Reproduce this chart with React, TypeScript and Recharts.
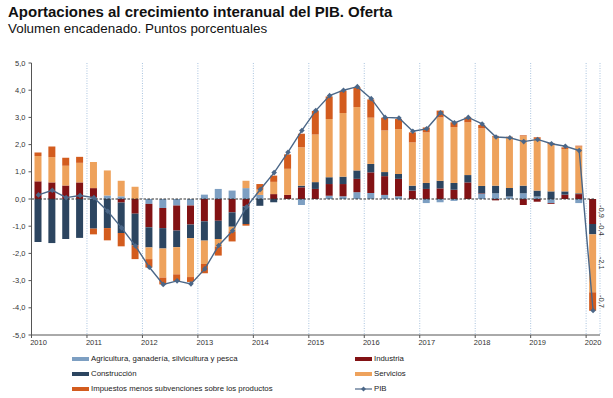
import {
  Bar,
  CartesianGrid,
  ComposedChart,
  Line,
  ReferenceLine,
  XAxis,
  YAxis,
} from "recharts";

// Trimestres 2010T1 - 2020T1
const years = [2010, 2011, 2012, 2013, 2014, 2015, 2016, 2017, 2018, 2019, 2020];
const quarters = years.flatMap((y) => [1, 2, 3, 4].map((q) => `${y}T${q}`)).slice(0, 41);

const agricultura = [
  0, 0, 0, 0, 0.05, 0.13, 0.1, 0, -0.18, -0.33, -0.24, -0.24, 0.16, 0.37, 0.31, 0.4,
  0.15, 0, 0, -0.22, 0, 0.12, 0.1, 0.25, 0.22, 0.15, 0.1, 0, -0.15, -0.12, -0.07, 0,
  0.19, 0.21, 0.09, 0.21, 0.09, -0.15, 0, -0.15, 0,
];
const industria = [
  0.65, 0.61, 0.5, 0.61, 0.35, 0, -0.13, -0.54, -0.86, -0.74, -0.92, -0.7, -0.82, -0.8, -0.49, -0.27,
  0, 0.18, 0.15, 0.43, 0.37, 0.43, 0.45, 0.49, 0.76, 0.69, 0.64, 0.31, 0.37, 0.39, 0.34, 0.61,
  0.02, -0.05, 0, -0.22, -0.1, -0.03, 0.16, 0.18, -0.92,
];
const construccion = [
  -1.58, -1.62, -1.47, -1.43, -1.09, -1.07, -1.12, -1.16, -0.74, -0.75, -0.61, -0.5, -0.71, -0.67, -0.53, -0.65,
  -0.25, -0.12, 0, 0.06, 0.25, 0.25, 0.27, 0.31, 0.31, 0.15, 0.18, 0.18, 0.22, 0.28, 0.25, 0.27,
  0.27, 0.28, 0.31, 0.28, 0.22, 0.28, 0.12, 0.03, -0.38,
];
const servicios = [
  0.93, 0.93, 0.72, 0.72, 0.96, 0.92, 0.57, 0.45, -0.43, -1.07, -1.0, -1.43, -0.86, -0.28, -0.17, 0.27,
  0.2, 0.45, 0.96, 1.41, 1.75, 2.14, 2.34, 2.33, 1.7, 1.53, 1.65, 1.59, 1.86, 2.33, 2.05, 1.94,
  2.12, 1.8, 1.87, 1.82, 1.9, 1.73, 1.56, 1.72, -2.13,
];
const impuestos = [
  0.13, 0.39, 0.3, 0.22, -0.21, -0.45, -0.49, -0.51, -0.31, -0.25, -0.25, -0.18, -0.34, -0.33, -0.37, -0.06,
  0.2, 0.23, 0.53, 0.5, 0.87, 0.83, 0.82, 0.74, 0.67, 0.47, 0.37, 0.37, 0.18, 0.25, 0.18, 0.18,
  0.12, 0.03, 0.02, 0.03, 0.06, 0.05, 0.06, 0.03, -0.68,
];
const pib = [
  0.15, 0.32, 0.05, 0.13, 0.05, -0.45, -1.06, -1.73, -2.51, -3.14, -3.01, -3.12, -2.57, -1.71, -1.17, -0.3,
  0.35, 0.97, 1.72, 2.52, 3.25, 3.8, 4.0, 4.13, 3.69, 3.0, 2.98, 2.49, 2.58, 3.17, 2.8, 3.0,
  2.76, 2.28, 2.25, 2.11, 2.19, 2.03, 1.94, 1.78, -4.1,
];

const yTicks = [-5, -4, -3, -2, -1, 0, 1, 2, 3, 4, 5];
const xTicks = years.map((_, i) => i * 4);

const COLORS = {
  agricultura: "#7d9fc2",
  industria: "#821214",
  construccion: "#2c4560",
  servicios: "#eea25c",
  impuestos: "#d35c1e",
  pib: "#4b6788",
};

const data = quarters.map((q, i) => ({
  q,
  x: i + 0.5,
  agricultura: agricultura[i],
  industria: industria[i],
  construccion: construccion[i],
  servicios: servicios[i],
  impuestos: impuestos[i],
  pib: pib[i],
}));

const fmt = (v: number) => v.toFixed(1).replace(".", ",");
const FONT = '"Liberation Sans", Arial, sans-serif';
const LAST = quarters.length - 1;

const YearTick = (props: any) => {
  const { x, y, payload } = props;
  return (
    <text x={x + 7} y={y + 5} textAnchor="middle" fontSize={7.5} fill="#333" fontFamily={FONT}>
      {years[payload.value / 4]}
    </text>
  );
};

const Diamond = (props: any) => {
  const { cx, cy } = props;
  if (cx == null || cy == null) return null;
  return (
    <path
      d={`M${cx},${cy - 2.8}L${cx + 2.8},${cy}L${cx},${cy + 2.8}L${cx - 2.8},${cy}Z`}
      fill={COLORS.pib}
    />
  );
};

// etiqueta girada solo para el último trimestre
// (los índices se desplazan cuando hay valores 0, así que se mira el payload)
const makeLabel = (values: number[]) => (props: any) => {
  const { x, y, width, height, payload } = props;
  const isLast = payload && payload.q ? payload.q === quarters[LAST] : x > 585;
  if (!isLast) return null;
  const cx = x + width + 5;
  const cy = y + height / 2;
  return (
    <text
      x={cx}
      y={cy}
      transform={`rotate(90 ${cx} ${cy})`}
      textAnchor="middle"
      dominantBaseline="central"
      fontSize={7.5}
      fill="#333"
      fontFamily={FONT}
    >
      {fmt(values[LAST])}
    </text>
  );
};

const legendItems = [
  { name: "Agricultura, ganadería, silvicultura y pesca", color: COLORS.agricultura, left: 72, top: 354 },
  { name: "Construcción", color: COLORS.construccion, left: 72, top: 369 },
  { name: "Impuestos menos subvenciones sobre los productos", color: COLORS.impuestos, left: 72, top: 384 },
  { name: "Industria", color: COLORS.industria, left: 355, top: 354 },
  { name: "Servicios", color: COLORS.servicios, left: 355, top: 369 },
];

export default function App() {
  return (
    <div
      style={{
        position: "absolute",
        left: 0,
        top: 0,
        width: 613,
        height: 398,
        background: "#fff",
        fontFamily: FONT,
        overflow: "hidden",
      }}
    >
      <div style={{ position: "absolute", left: 8, top: 3, fontSize: 15, fontWeight: "bold", color: "#111" }}>
        Aportaciones al crecimiento interanual del PIB. Oferta
      </div>
      <div style={{ position: "absolute", left: 8, top: 21, fontSize: 13.4, color: "#111" }}>
        Volumen encadenado. Puntos porcentuales
      </div>
      <div style={{ position: "absolute", left: 0, top: 0 }}>
        <ComposedChart
          width={613}
          height={398}
          data={data}
          stackOffset="sign"
          margin={{ top: 63, right: 13, bottom: 43, left: 0 }}
        >
          <CartesianGrid horizontal={false} stroke="#a9c3de" strokeDasharray="1 1.5" />
          <XAxis
            dataKey="x"
            type="number"
            domain={[0, 41]}
            ticks={xTicks}
            interval={0}
            height={20}
            tick={<YearTick />}
            tickSize={3}
            axisLine={{ stroke: "#555" }}
            tickLine={{ stroke: "#555" }}
          />
          <YAxis
            type="number"
            domain={[-5, 5]}
            ticks={yTicks}
            interval={0}
            width={31.5}
            tickFormatter={fmt}
            tickSize={3}
            tickMargin={3}
            tick={{ fontSize: 7.5, fill: "#333", fontFamily: FONT }}
            axisLine={{ stroke: "#555" }}
            tickLine={{ stroke: "#555" }}
          />
          <Bar dataKey="agricultura" stackId="a" fill={COLORS.agricultura} barSize={7} isAnimationActive={false} />
          <Bar
            dataKey="industria"
            stackId="a"
            fill={COLORS.industria}
            barSize={7}
            isAnimationActive={false}
            label={makeLabel(industria)}
          />
          <Bar
            dataKey="construccion"
            stackId="a"
            fill={COLORS.construccion}
            barSize={7}
            isAnimationActive={false}
            label={makeLabel(construccion)}
          />
          <Bar
            dataKey="servicios"
            stackId="a"
            fill={COLORS.servicios}
            barSize={7}
            isAnimationActive={false}
            label={makeLabel(servicios)}
          />
          <Bar
            dataKey="impuestos"
            stackId="a"
            fill={COLORS.impuestos}
            barSize={7}
            isAnimationActive={false}
            label={makeLabel(impuestos)}
          />
          <ReferenceLine
            segment={[
              { x: 0, y: 0 },
              { x: 40.6, y: 0 },
            ]}
            stroke="#333"
            strokeWidth={1.2}
            strokeDasharray="2.5 1.5"
          />
          <Line
            dataKey="pib"
            stroke={COLORS.pib}
            strokeWidth={1.4}
            dot={<Diamond />}
            activeDot={false}
            isAnimationActive={false}
          />
        </ComposedChart>
      </div>
      {legendItems.map((it) => (
        <div
          key={it.name}
          style={{
            position: "absolute",
            left: it.left,
            top: it.top,
            display: "flex",
            alignItems: "center",
            fontSize: 7.8,
            color: "#222",
            lineHeight: "9px",
          }}
        >
          <span style={{ display: "inline-block", width: 17, height: 4, background: it.color, marginRight: 2 }} />
          {it.name}
        </div>
      ))}
      <div
        style={{
          position: "absolute",
          left: 355,
          top: 384,
          display: "flex",
          alignItems: "center",
          fontSize: 7.8,
          color: "#222",
          lineHeight: "9px",
        }}
      >
        <svg width={17} height={8} style={{ marginRight: 2 }}>
          <line x1={0} y1={4} x2={17} y2={4} stroke={COLORS.pib} strokeWidth={1.2} />
          <path d="M8.5,1.5L11,4L8.5,6.5L6,4Z" fill={COLORS.pib} />
        </svg>
        PIB
      </div>
    </div>
  );
}
